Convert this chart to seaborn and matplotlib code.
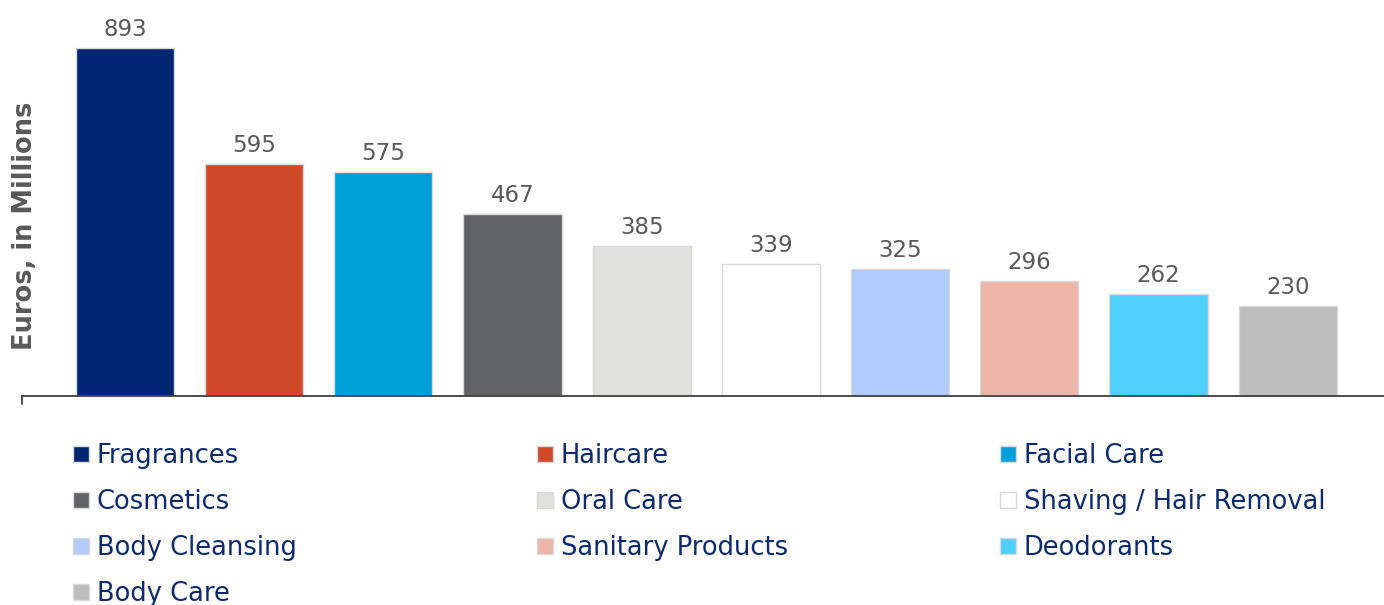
import matplotlib
matplotlib.use("Agg")
import matplotlib.pyplot as plt
from matplotlib.patches import Patch
import seaborn as sns
import pandas as pd

categories = ["Fragrances", "Haircare", "Facial Care", "Cosmetics", "Oral Care",
              "Shaving / Hair Removal", "Body Cleansing", "Sanitary Products",
              "Deodorants", "Body Care"]
values = [893, 595, 575, 467, 385, 339, 325, 296, 262, 230]
colors = ["#002673", "#d04a2a", "#00a0d9", "#616264", "#e0e1dd",
          "#ffffff", "#b1cbfc", "#ecb5a8", "#4fd0fd", "#bdbdbd"]

sns.set_theme(style="white")
plt.rcParams["font.family"] = ["DejaVu Sans"]

df = pd.DataFrame({"category": categories, "value": values})

fig = plt.figure(figsize=(13.84, 6.05), dpi=100)
ax = fig.add_axes([22 / 1384, 209 / 605, 1362 / 1384, 396 / 605])

sns.barplot(data=df, x="category", y="value", hue="category",
            palette=dict(zip(categories, colors)), order=categories,
            width=0.76, saturation=1, edgecolor="#d9d9d9", linewidth=1.0,
            legend=False, ax=ax)

ax.set_xlim(-0.797, 9.745)
ax.set_ylim(0, 1016)
for s in ["top", "right", "left"]:
    ax.spines[s].set_visible(False)
ax.spines["bottom"].set_color("#404040")
ax.spines["bottom"].set_linewidth(1.3)
ax.plot([0, 0], [0, -0.02], transform=ax.transAxes, color="#404040",
        lw=1.3, clip_on=False)
ax.set_xticks([])
ax.set_yticks([])
ax.set_xlabel("")
ax.set_ylabel("Euros, in Millions", fontsize=18.5, fontweight="bold",
              color="#595959", labelpad=0)
ax.yaxis.set_label_coords(0.0115, 0.43)

for cont in ax.containers:
    ax.bar_label(cont, fmt="%d", padding=5, fontsize=16.5, color="#595959")

# legend: three columns laid out row by row
handles = [Patch(facecolor=c, edgecolor="#d9d9d9", linewidth=1.0) for c in colors]
col_x = [73 / 1384, 537 / 1384, 1000 / 1384]
for j in range(3):
    idx = list(range(j, len(categories), 3))
    fig.legend([handles[i] for i in idx], [categories[i] for i in idx],
               loc="upper left", bbox_to_anchor=(col_x[j], 1 - 443 / 605),
               frameon=False, fontsize=18.5, labelcolor="#0b2a6f",
               handlelength=0.62, handleheight=0.62, handletextpad=0.31,
               labelspacing=0.78, borderpad=0, borderaxespad=0)

fig.savefig("out.png", dpi=100)
